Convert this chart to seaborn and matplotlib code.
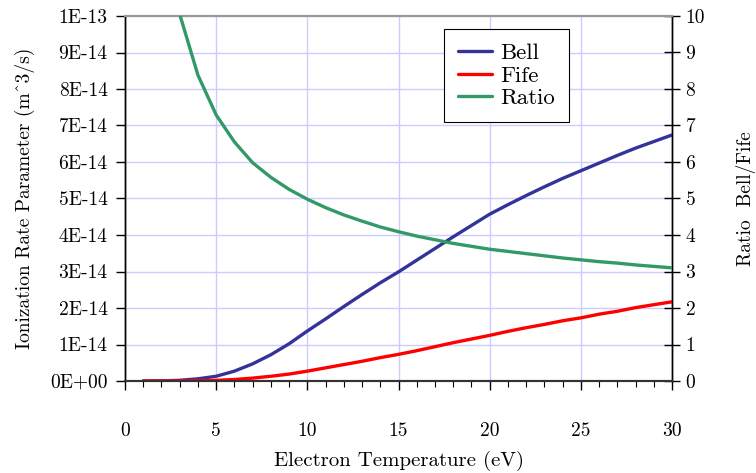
import matplotlib
matplotlib.use("Agg")
import matplotlib.pyplot as plt
import seaborn as sns
import pandas as pd
from matplotlib.ticker import MultipleLocator, FixedLocator
from matplotlib.lines import Line2D

temperature = list(range(1, 31))
bell_e14 = [0.0, 0.002, 0.02, 0.06, 0.13, 0.27, 0.47, 0.72, 1.02, 1.37,
            1.70, 2.04, 2.37, 2.69, 2.99, 3.31, 3.63, 3.95, 4.26, 4.57,
            4.83, 5.08, 5.32, 5.55, 5.76, 5.97, 6.18, 6.38, 6.56, 6.74]
fife_e14 = [0.0, 0.0003, 0.002, 0.007, 0.018, 0.041, 0.079, 0.13, 0.19, 0.27,
            0.36, 0.45, 0.54, 0.64, 0.73, 0.83, 0.94, 1.05, 1.15, 1.25,
            1.36, 1.46, 1.55, 1.65, 1.73, 1.83, 1.91, 2.01, 2.09, 2.17]
ratio = [60.0, 18.0, 10.05, 8.38, 7.29, 6.55, 5.98, 5.58, 5.25, 4.98,
         4.75, 4.55, 4.38, 4.22, 4.09, 3.97, 3.87, 3.77, 3.69, 3.61,
         3.55, 3.49, 3.43, 3.37, 3.32, 3.27, 3.23, 3.18, 3.14, 3.10]
left_tick_labels = ["0E+00", "1E-14", "2E-14", "3E-14", "4E-14", "5E-14",
                    "6E-14", "7E-14", "8E-14", "9E-14", "1E-13"]
right_tick_labels = [str(i) for i in range(11)]
x_tick_labels = ["0", "5", "10", "15", "20", "25", "30"]

df = pd.DataFrame({
    "T": temperature,
    "Bell": [v * 1e-14 for v in bell_e14],
    "Fife": [v * 1e-14 for v in fife_e14],
    "Ratio": ratio,
})

sns.set_theme(style="white")
plt.rcParams["font.family"] = ["cmr10", "DejaVu Serif"]
plt.rcParams["axes.formatter.use_mathtext"] = True
plt.rcParams["mathtext.fontset"] = "cm"
for k in ("text.color", "axes.labelcolor", "xtick.color", "ytick.color"):
    plt.rcParams[k] = "black"

c_bell = "#333399"
c_fife = "#ff0000"
c_ratio = "#339966"
grid_c = "#ccccff"
fs_tick = 14
fs_xlab = 15
fs_ylab = 14
fs_leg = 16.5
lw = 2.4

fig = plt.figure(figsize=(7.56, 4.73), dpi=100)
ax = fig.add_axes([125 / 756, 1 - 381 / 473, 547 / 756, 365 / 473])
ax2 = ax.twinx()

sns.lineplot(data=df, x="T", y="Bell", ax=ax, color=c_bell, linewidth=lw, zorder=3)
sns.lineplot(data=df, x="T", y="Fife", ax=ax, color=c_fife, linewidth=lw, zorder=3)
sns.lineplot(data=df, x="T", y="Ratio", ax=ax2, color=c_ratio, linewidth=lw, zorder=3)

ax.set_xlim(0, 30)
ax.set_ylim(0, 1e-13)
ax2.set_ylim(0, 10)

ax.xaxis.set_major_locator(FixedLocator([0, 5, 10, 15, 20, 25, 30]))
ax.set_xticklabels(x_tick_labels)
ax.xaxis.set_minor_locator(MultipleLocator(1))
ax.yaxis.set_major_locator(FixedLocator([i * 1e-14 for i in range(11)]))
ax.set_yticklabels(left_tick_labels)
ax2.yaxis.set_major_locator(FixedLocator(list(range(11))))
ax2.set_yticklabels(right_tick_labels)

ax.grid(True, which="major", color=grid_c, linewidth=1.0)
ax.set_axisbelow(True)
ax2.grid(False)

ax.tick_params(axis="x", which="major", direction="out", length=6.5, width=1,
               color="black", pad=23, labelsize=fs_tick, bottom=True)
ax.tick_params(axis="x", which="minor", direction="out", length=4, width=0.8,
               color="black", bottom=True)
ax.tick_params(axis="y", which="major", direction="out", length=6.5, width=1,
               color="black", pad=6, labelsize=fs_tick, left=True)
ax2.tick_params(axis="y", which="major", direction="inout", length=11.5, width=1,
                color="black", pad=4, labelsize=fs_tick, right=True)

for a in (ax, ax2):
    a.spines["top"].set_color("#999999")
    a.spines["top"].set_linewidth(1.5)
    a.spines["left"].set_color("black")
    a.spines["right"].set_color("black")
    a.spines["bottom"].set_color("#333333")
    a.spines["bottom"].set_linewidth(1.5)
    for s in ("left", "right"):
        a.spines[s].set_linewidth(1.0)

ax.set_xlabel("Electron Temperature (eV)", fontsize=fs_xlab, labelpad=8)
ax.set_ylabel("Ionization Rate Parameter (m^3/s)", fontsize=fs_ylab, labelpad=11)
ax2.set_ylabel("Ratio  Bell/Fife", fontsize=fs_ylab, labelpad=22)

handles = [Line2D([], [], color=c_bell, lw=lw),
           Line2D([], [], color=c_fife, lw=lw),
           Line2D([], [], color=c_ratio, lw=lw)]
leg = ax2.legend(handles, ["Bell", "Fife", "Ratio"], loc="upper left",
                 bbox_to_anchor=((444 - 125) / 547, (381 - 29) / 365),
                 fontsize=fs_leg, frameon=True, fancybox=False, framealpha=1,
                 edgecolor="black", handlelength=1.5, handletextpad=0.35,
                 borderpad=0.6, borderaxespad=0, labelspacing=0.12)
leg.get_frame().set_linewidth(0.8)

fig.savefig("out.png", dpi=100)
